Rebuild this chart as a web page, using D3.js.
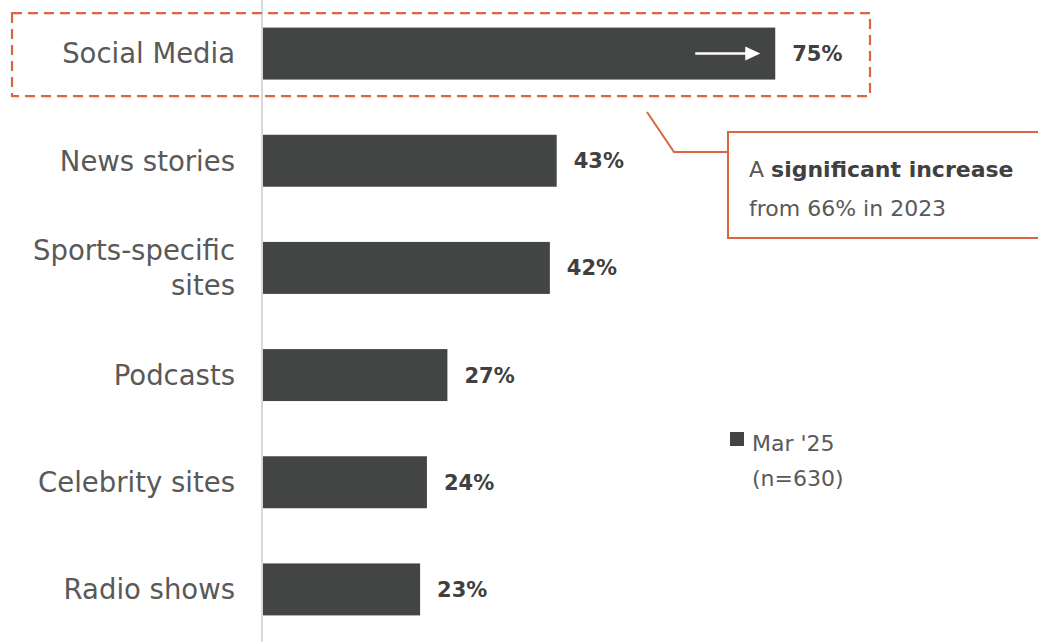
<!DOCTYPE html>
<html>
<head>
<meta charset="utf-8">
<script src="https://cdn.jsdelivr.net/npm/d3@7"></script>
<style>
  html, body { margin: 0; padding: 0; background: #fff; }
  svg { display: block; }
  text { font-family: "Century Gothic", "DejaVu Sans", sans-serif; }
</style>
</head>
<body>
<svg id="chart" width="1038" height="642"></svg>
<script>
// Where sports fans get their news, share of respondents (Mar '25, n=630)
const categories = ["Social Media", "News stories", "Sports-specific sites", "Podcasts", "Celebrity sites", "Radio shows"];
const categoryLines = [["Social Media"], ["News stories"], ["Sports-specific", "sites"], ["Podcasts"], ["Celebrity sites"], ["Radio shows"]];
const values = [75, 43, 42, 27, 24, 23];
const seriesName = ["Mar '25", "(n=630)"];
const calloutLines = [["A ", "significant increase"], ["from 66% in 2023"]];

const svg = d3.select("#chart");
const barColor = "#434444";
const textColor = "#595959";
const accent = "#d9663f";

const x = d3.scaleLinear().domain([0, 100]).range([263, 946]);
const y = d3.scaleBand().domain(categories).range([0, 643])
  .paddingInner(0.515).paddingOuter(0.2575);

// vertical baseline
svg.append("line")
  .attr("x1", 262).attr("x2", 262).attr("y1", 0).attr("y2", 642)
  .attr("stroke", "#d9d9d9").attr("stroke-width", 2);

// bars
svg.selectAll("rect.bar").data(values).join("rect")
  .attr("class", "bar")
  .attr("x", x(0))
  .attr("y", (d, i) => y(categories[i]))
  .attr("width", d => x(d) - x(0))
  .attr("height", y.bandwidth())
  .attr("fill", barColor);

// value labels
svg.selectAll("text.val").data(values).join("text")
  .attr("class", "val")
  .attr("x", d => x(d) + 17)
  .attr("y", (d, i) => y(categories[i]) + y.bandwidth() / 2)
  .attr("dy", "0.36em")
  .attr("font-size", 21).attr("font-weight", "bold")
  .attr("fill", "#404040")
  .text(d => d + "%");

// category labels
const cat = svg.selectAll("text.cat").data(categoryLines).join("text")
  .attr("class", "cat")
  .attr("text-anchor", "end")
  .attr("font-size", 27.5)
  .attr("fill", textColor)
  .attr("transform", (d, i) => `translate(235,${y(categories[i]) + y.bandwidth() / 2})`);
cat.selectAll("tspan").data(d => d.map((t, k) => ({ t, k, n: d.length }))).join("tspan")
  .attr("x", 0)
  .attr("y", d => (d.k - (d.n - 1) / 2) * 35)
  .attr("dy", "0.36em")
  .text(d => d.t);

// highlight frame around the top bar
const top0 = y(categories[0]);
svg.append("rect")
  .attr("x", 12).attr("y", top0 - 14.5)
  .attr("width", 858).attr("height", 83)
  .attr("fill", "none").attr("stroke", accent)
  .attr("stroke-width", 2.2).attr("stroke-dasharray", "10,6");

// white arrow inside the top bar
const arrowY = top0 + y.bandwidth() / 2;
svg.append("line")
  .attr("x1", x(values[0]) - 80).attr("x2", x(values[0]) - 28)
  .attr("y1", arrowY).attr("y2", arrowY)
  .attr("stroke", "#fff").attr("stroke-width", 2.5);
svg.append("path")
  .attr("d", `M${x(values[0]) - 15},${arrowY} L${x(values[0]) - 30},${arrowY - 7} L${x(values[0]) - 30},${arrowY + 7} Z`)
  .attr("fill", "#fff");

// callout leader and box
svg.append("path")
  .attr("d", "M647,112 L674,152 L728,152")
  .attr("fill", "none").attr("stroke", accent).attr("stroke-width", 2);
svg.append("rect")
  .attr("x", 728).attr("y", 132).attr("width", 330).attr("height", 106)
  .attr("fill", "#fff").attr("stroke", accent).attr("stroke-width", 2);
const call = svg.append("g").attr("font-size", 22).attr("fill", textColor);
calloutLines.forEach((parts, i) => {
  const t = call.append("text").attr("x", 749).attr("y", 177 + i * 39);
  parts.forEach((p, k) => {
    t.append("tspan").text(p)
      .attr("font-weight", (i === 0 && k === 1) ? "bold" : "normal")
      .attr("fill", (i === 0 && k === 1) ? "#404040" : textColor);
  });
});

// legend
const lg = svg.append("g");
lg.append("rect").attr("x", 730).attr("y", 432).attr("width", 14).attr("height", 14).attr("fill", barColor);
lg.selectAll("text").data(seriesName).join("text")
  .attr("x", 752).attr("y", (d, i) => 451 + i * 35)
  .attr("font-size", 22).attr("fill", textColor)
  .text(d => d);
</script>
</body>
</html>
